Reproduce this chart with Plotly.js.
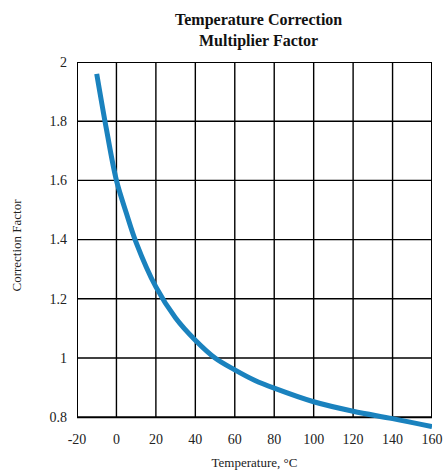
<!DOCTYPE html>
<html>
<head>
<meta charset="utf-8">
<script src="https://cdn.plot.ly/plotly-3.0.1.min.js"></script>
<style>html,body{margin:0;padding:0;background:#fff;}#chart{width:447px;height:472px;}</style>
</head>
<body>
<div id="chart"></div>
<script>
const temperature = [-10, -5, 0, 5, 10, 20, 30, 40, 50, 60, 70, 80, 100, 120, 140, 160];
const factor = [1.96, 1.77, 1.60, 1.49, 1.39, 1.24, 1.135, 1.06, 1.0, 0.96, 0.925, 0.898, 0.852, 0.82, 0.795, 0.768];
const xTicks = [-20, 0, 20, 40, 60, 80, 100, 120, 140, 160];
const yTicks = [0.8, 1, 1.2, 1.4, 1.6, 1.8, 2];
const yTickText = ['0.8', '1', '1.2', '1.4', '1.6', '1.8', '2'];

const serif = 'Liberation Serif, Times New Roman, serif';
const xMin = xTicks[0], xMax = xTicks[xTicks.length - 1];
const yMin = yTicks[0], yMax = yTicks[yTicks.length - 1];

const vLines = xTicks.map((t, i) => ({
  type: 'line', xref: 'x', yref: 'y',
  x0: t, x1: t, y0: yMin, y1: yMax,
  line: {color: '#000', width: (i === 0 || i === xTicks.length - 1) ? 2 : 1.4},
  layer: 'below'
}));
const hLines = yTicks.map((v, i) => ({
  type: 'line', xref: 'x', yref: 'y',
  x0: xMin, x1: xMax, y0: v, y1: v,
  line: {color: '#000', width: (i === 0 || i === yTicks.length - 1) ? 2 : 1.4},
  layer: 'below'
}));

Plotly.newPlot('chart', [{
  x: temperature,
  y: factor,
  type: 'scatter',
  mode: 'lines',
  line: {color: '#1a82be', width: 5, shape: 'spline', smoothing: 1},
  hoverinfo: 'skip'
}], {
  width: 447,
  height: 472,
  margin: {l: 77, r: 15, t: 62, b: 43},
  paper_bgcolor: '#ffffff',
  plot_bgcolor: '#ffffff',
  showlegend: false,
  shapes: vLines.concat(hLines),
  annotations: [{
    text: '<b>Temperature Correction<br>Multiplier Factor</b>',
    font: {family: serif, size: 16, color: '#111'},
    xref: 'paper', yref: 'paper',
    x: 0.51, xanchor: 'center',
    y: 1, yanchor: 'bottom', yshift: 10,
    showarrow: false
  }],
  xaxis: {
    range: [xMin, xMax],
    tickvals: xTicks,
    ticktext: xTicks.map(String),
    showgrid: false,
    zeroline: false,
    showline: false,
    ticks: '', ticklen: 0,
    tickfont: {family: serif, size: 14, color: '#222'},
    title: {text: 'Temperature, °C', font: {family: serif, size: 13, color: '#222'}, standoff: 11}
  },
  yaxis: {
    range: [0.76, 2],
    tickvals: yTicks,
    ticktext: yTickText,
    showgrid: false,
    zeroline: false,
    showline: false,
    ticks: '', ticklen: 0,
    ticklabelstandoff: 9,
    tickfont: {family: serif, size: 14, color: '#222'},
    title: {text: 'Correction Factor', font: {family: serif, size: 13, color: '#222'}, standoff: 24}
  }
}, {displayModeBar: false, staticPlot: true});
</script>
</body>
</html>
